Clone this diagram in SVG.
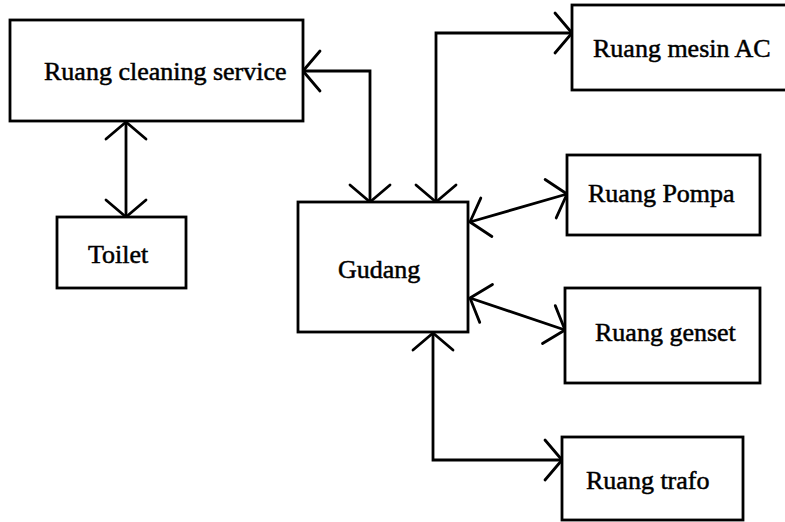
<svg xmlns="http://www.w3.org/2000/svg" width="785" height="522" viewBox="0 0 785 522">
  <style>
    .box { fill: #ffffff; stroke: #000000; stroke-width: 2.8; }
    .label { font-family: "Liberation Serif", "Times New Roman", serif; font-size: 26px; fill: #000000; stroke: #000000; stroke-width: 0.5; }
    .link { fill: none; stroke: #000000; stroke-width: 2.8; marker-start: url(#vhead); marker-end: url(#vhead); }
  </style>
  <defs>
    <!-- open V arrowhead, drawn at both ends of every connector -->
    <marker id="vhead" viewBox="-22 -24 26 48" markerWidth="26" markerHeight="48" refX="0" refY="0" markerUnits="userSpaceOnUse" orient="auto-start-reverse">
      <path d="M -17 -20 L 0 0 L -17 20" fill="none" stroke="#000000" stroke-width="2.8" stroke-linecap="round" stroke-linejoin="round"/>
    </marker>
  </defs>
  <rect width="785" height="522" fill="#ffffff"/>

  <g id="connectors">
    <path class="link" d="M 126 122 L 126 217"/>
    <path class="link" d="M 303 71 L 370 71 L 370 202"/>
    <path class="link" d="M 436 202 L 436 33 L 572 33"/>
    <path class="link" d="M 470 222 L 567 194"/>
    <path class="link" d="M 470 298 L 565 330"/>
    <path class="link" d="M 433 333 L 433 460 L 562 460"/>
  </g>

  <g id="cleaning-service">
    <rect class="box" x="10" y="20" width="293" height="101"/>
    <text class="label" x="44" y="80">Ruang cleaning service</text>
  </g>

  <g id="toilet">
    <rect class="box" x="57" y="217" width="129" height="71"/>
    <text class="label" x="88" y="263">Toilet</text>
  </g>

  <g id="gudang">
    <rect class="box" x="298" y="202" width="170" height="130"/>
    <text class="label" x="338" y="278">Gudang</text>
  </g>

  <g id="mesin-ac">
    <rect class="box" x="572" y="5" width="215" height="85"/>
    <text class="label" x="593" y="57">Ruang mesin AC</text>
  </g>

  <g id="pompa">
    <rect class="box" x="567" y="155" width="193" height="80"/>
    <text class="label" x="588" y="202">Ruang Pompa</text>
  </g>

  <g id="genset">
    <rect class="box" x="565" y="288" width="195" height="95"/>
    <text class="label" x="595" y="341">Ruang genset</text>
  </g>

  <g id="trafo">
    <rect class="box" x="562" y="437" width="181" height="83"/>
    <text class="label" x="586" y="489">Ruang trafo</text>
  </g>
</svg>
